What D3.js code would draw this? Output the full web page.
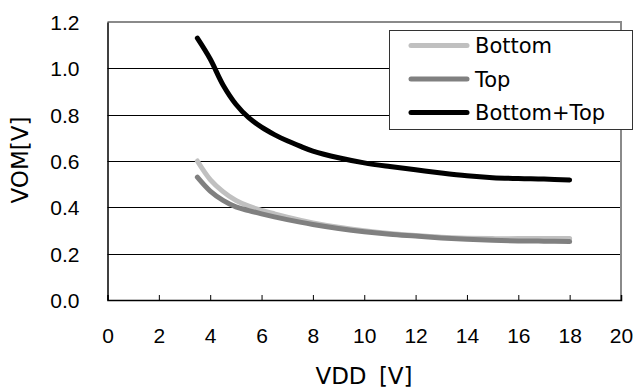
<!DOCTYPE html>
<html>
<head>
<meta charset="utf-8">
<script src="https://cdn.jsdelivr.net/npm/d3@7"></script>
<style>
  html, body { margin: 0; padding: 0; background: #fff; }
  svg { display: block; }
  text { font-family: "DejaVu Sans", "Liberation Sans", sans-serif; fill: #000; }
</style>
</head>
<body>
<svg id="chart" width="639" height="389"></svg>
<script>
// Supply voltage sweep (V)
const vdd = [3.5, 4, 4.5, 5, 5.5, 6, 6.5, 7, 7.5, 8, 9, 10, 11, 12, 13, 14, 15, 16, 17, 18];

// Output voltage VOM (V) per configuration
const vomBottom    = [0.60, 0.52, 0.468, 0.43, 0.405, 0.387, 0.372, 0.358, 0.345, 0.333, 0.314, 0.299, 0.287, 0.278, 0.271, 0.267, 0.265, 0.265, 0.265, 0.265];
const vomTop       = [0.53, 0.47, 0.43, 0.402, 0.386, 0.372, 0.359, 0.347, 0.336, 0.326, 0.309, 0.295, 0.284, 0.276, 0.268, 0.262, 0.258, 0.255, 0.254, 0.252];
const vomBottomTop = [1.13, 1.04, 0.928, 0.845, 0.787, 0.746, 0.714, 0.687, 0.664, 0.643, 0.614, 0.592, 0.576, 0.562, 0.548, 0.536, 0.528, 0.524, 0.522, 0.518];

const seriesNames  = ["Bottom", "Top", "Bottom+Top"];
const seriesValues = [vomBottom, vomTop, vomBottomTop];
const seriesColors = ["#c0c0c0", "#808080", "#000000"];

const xTicks = [0, 2, 4, 6, 8, 10, 12, 14, 16, 18, 20];
const yTicks = [0.0, 0.2, 0.4, 0.6, 0.8, 1.0, 1.2];

const svg = d3.select("#chart");
const plot = { left: 107.5, top: 22, right: 621, bottom: 300 };

const x = d3.scaleLinear().domain([0, 20]).range([plot.left, plot.right]);
const y = d3.scaleLinear().domain([0, 1.2]).range([plot.bottom, plot.top]);

// Horizontal gridlines
svg.append("g")
  .selectAll("line")
  .data(yTicks.filter(v => v > 0 && v < 1.2))
  .join("line")
  .attr("x1", plot.left).attr("x2", plot.right)
  .attr("y1", d => Math.round(y(d)) + 0.5).attr("y2", d => Math.round(y(d)) + 0.5)
  .attr("stroke", "#000").attr("stroke-width", 1);

// Gray frame on top and right
svg.append("path")
  .attr("d", `M${plot.left},${plot.top}H${plot.right}V${plot.bottom}`)
  .attr("fill", "none").attr("stroke", "#8a8a8a").attr("stroke-width", 2);

// Bottom axis with inward ticks
const xAxis = d3.axisBottom(x).tickValues(xTicks).tickSize(-5).tickPadding(0).tickFormat(d3.format("d"));
const gx = svg.append("g").attr("transform", `translate(0,${plot.bottom})`).call(xAxis);
gx.select(".domain").attr("stroke", "#000").attr("stroke-width", 1.5);
gx.selectAll(".tick line").attr("stroke", "#000").attr("stroke-width", 1);
gx.selectAll(".tick text")
  .attr("y", 43).attr("dy", 0)
  .style("font-size", "21px").style("font-family", "'Liberation Sans', Arial, sans-serif");

// Left axis
const yAxis = d3.axisLeft(y).tickValues(yTicks).tickSize(0).tickPadding(0).tickFormat(d3.format(".1f"));
const gy = svg.append("g").attr("transform", `translate(${plot.left},0)`).call(yAxis);
gy.select(".domain").attr("stroke", "#000").attr("stroke-width", 1.5);
gy.selectAll(".tick text")
  .attr("x", -28).attr("dy", "0.36em")
  .style("font-size", "21px").style("font-family", "'Liberation Sans', Arial, sans-serif");

// Smoothed curves
const line = d3.line()
  .x((d, i) => x(vdd[i]))
  .y(d => y(d))
  .curve(d3.curveCatmullRom.alpha(0.5));

svg.append("g")
  .selectAll("path")
  .data(seriesValues)
  .join("path")
  .attr("d", d => line(d))
  .attr("fill", "none")
  .attr("stroke", (d, i) => seriesColors[i])
  .attr("stroke-width", 5)
  .attr("stroke-linecap", "round")
  .attr("stroke-linejoin", "round");

// Legend
const legend = svg.append("g");
legend.append("rect")
  .attr("x", 389.5).attr("y", 30.5).attr("width", 243).attr("height", 99)
  .attr("fill", "#fff").attr("stroke", "#333").attr("stroke-width", 1);

const rowY = [45.5, 79, 112.5];
seriesNames.forEach((name, i) => {
  legend.append("line")
    .attr("x1", 411).attr("x2", 467)
    .attr("y1", rowY[i]).attr("y2", rowY[i])
    .attr("stroke", seriesColors[i]).attr("stroke-width", 5)
    .attr("stroke-linecap", "round");
  legend.append("text")
    .attr("x", 475).attr("y", rowY[i]).attr("dy", "0.36em")
    .style("font-size", "21px")
    .text(name);
});

// Axis titles
svg.append("text")
  .attr("x", 364).attr("y", 384)
  .attr("text-anchor", "middle")
  .style("font-size", "23px")
  .style("word-spacing", "5px")
  .text("VDD [V]");

svg.append("text")
  .attr("transform", "translate(28,160) rotate(-90)")
  .attr("text-anchor", "middle")
  .style("font-size", "23px")
  .text("VOM[V]");
</script>
</body>
</html>
